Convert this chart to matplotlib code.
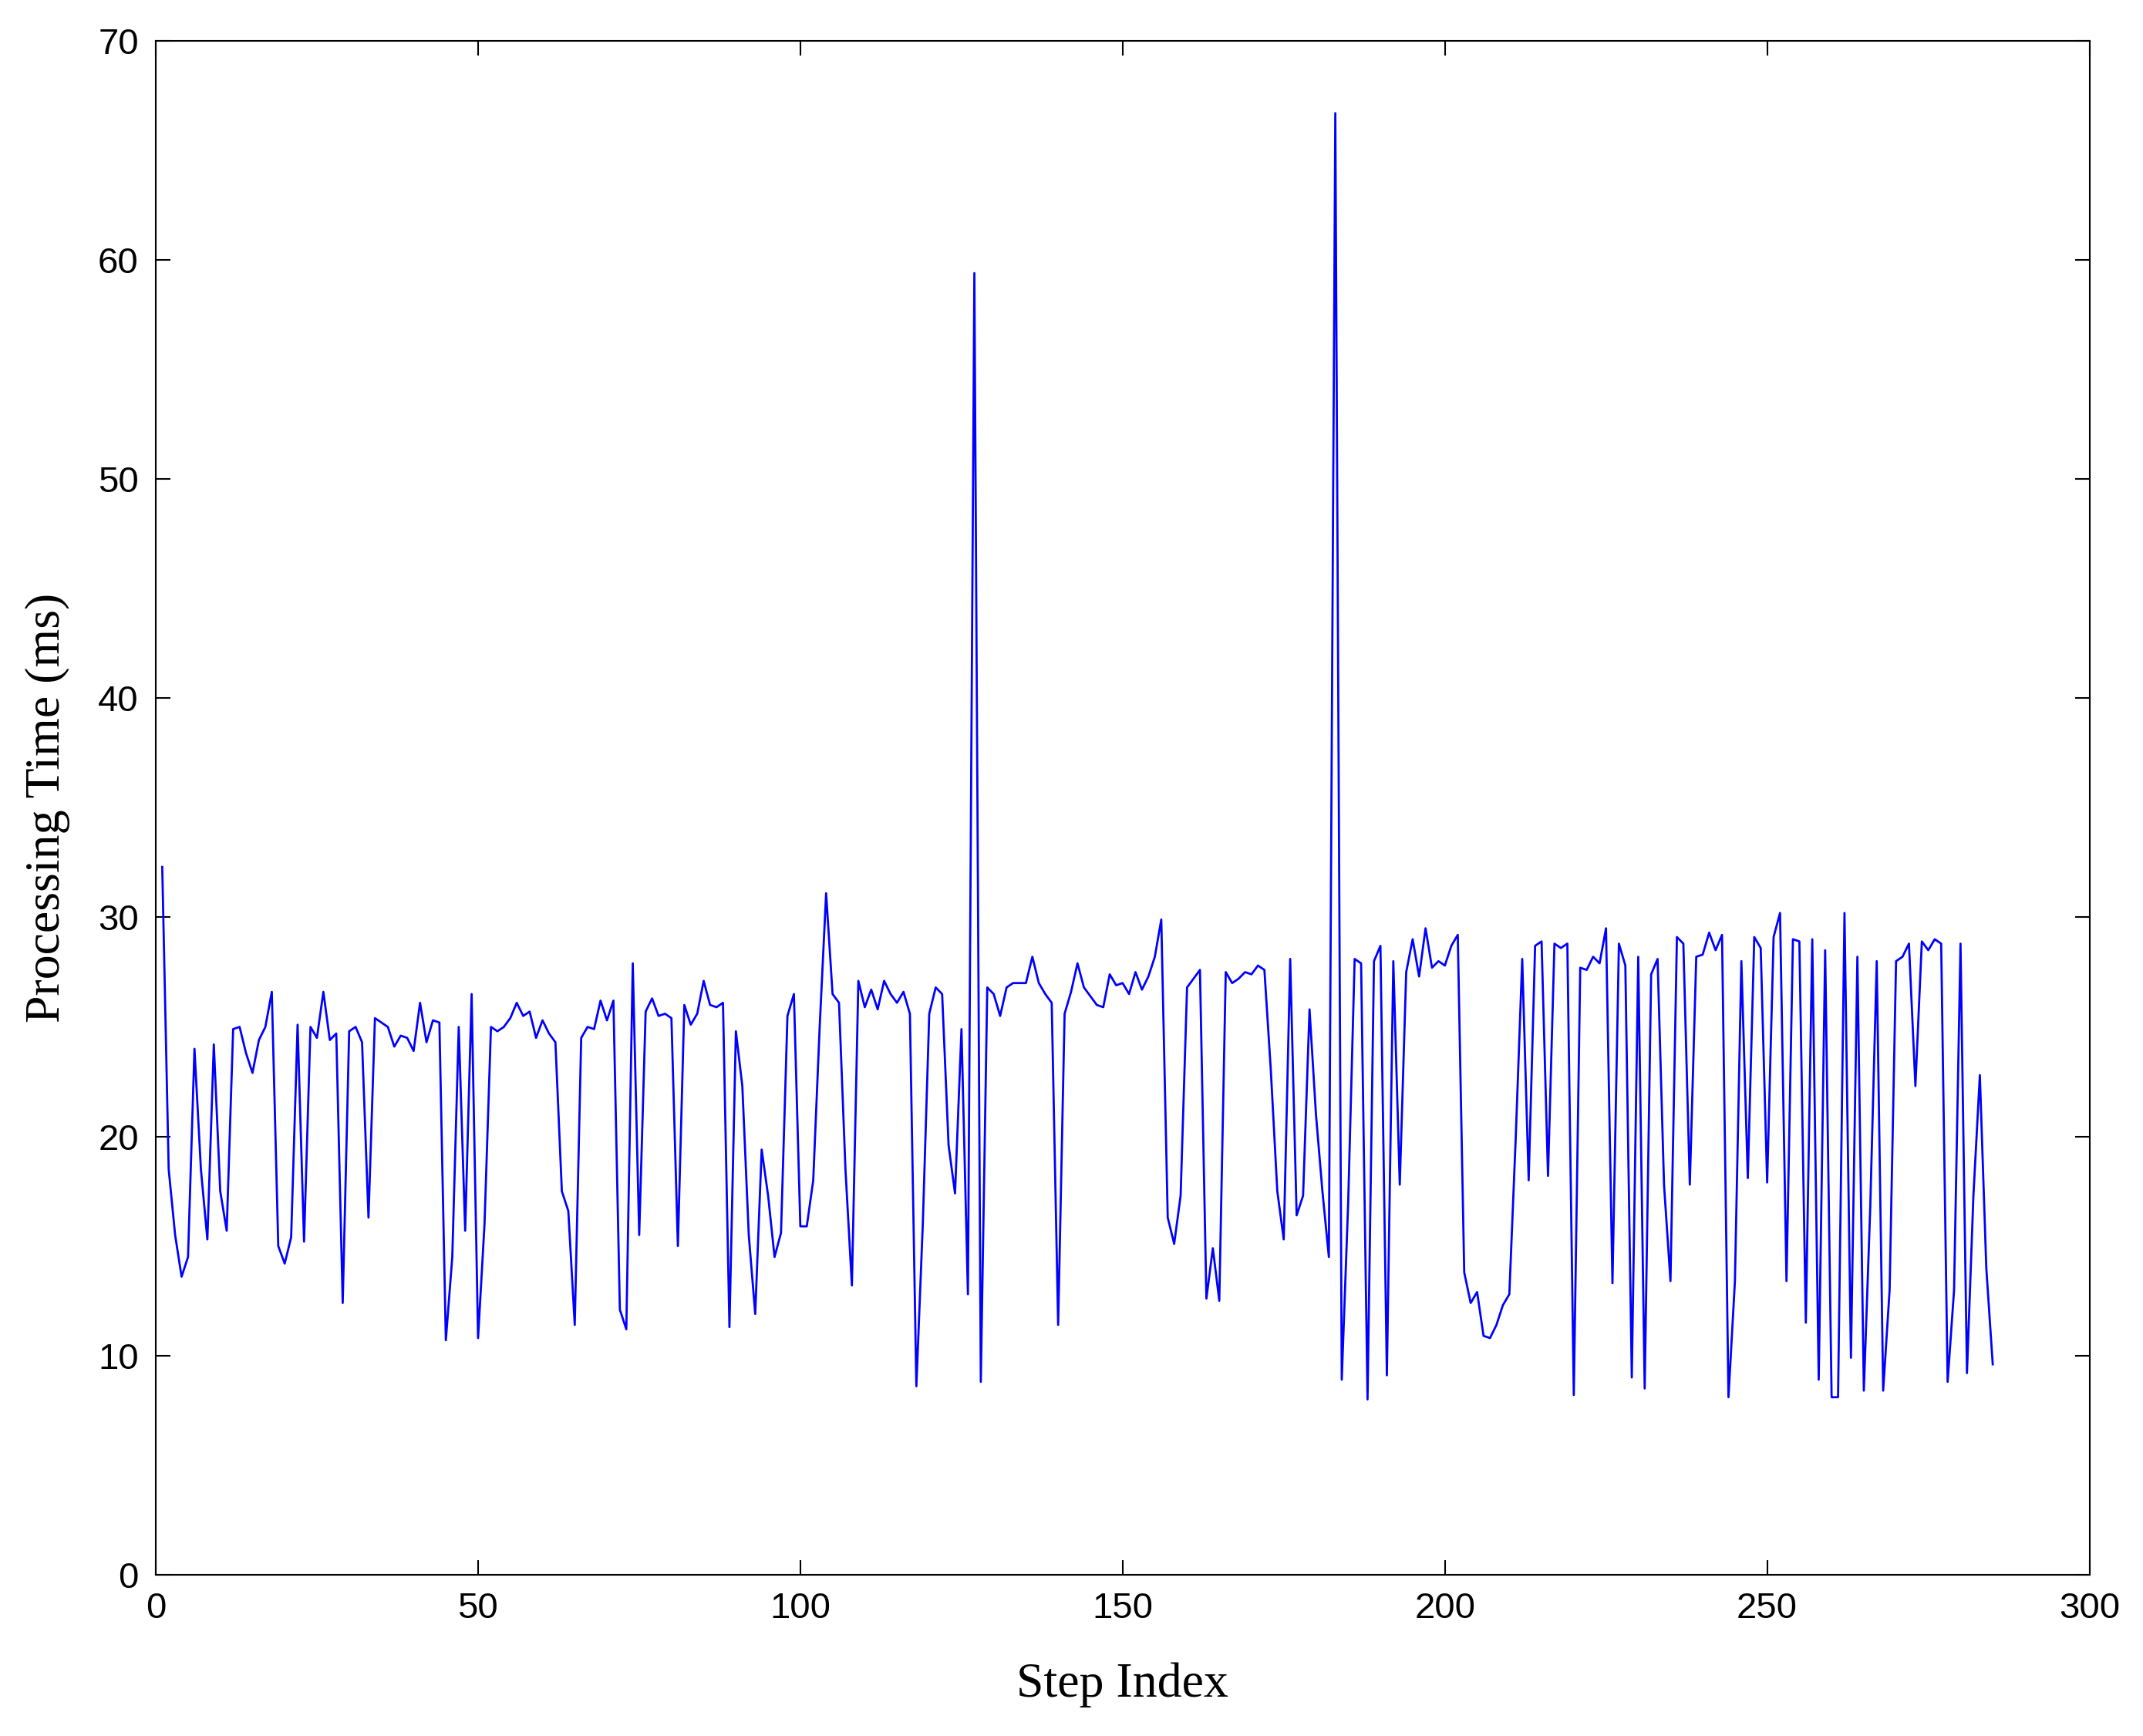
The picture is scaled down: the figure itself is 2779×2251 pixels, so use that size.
import matplotlib
matplotlib.use("Agg")
import matplotlib.pyplot as plt

values = [32.3,18.5,15.5,13.6,14.5,24,18.5,15.3,24.2,17.5,15.7,24.9,25,23.8,22.9,24.4,25,26.6,15,14.2,
15.4,25.1,15.2,25,24.5,26.6,24.4,24.7,12.4,24.8,25,24.3,16.3,25.4,25.2,25,24.1,24.6,24.5,23.9,
26.1,24.3,25.3,25.2,10.7,14.5,25,15.7,26.5,10.8,16,25,24.8,25,25.4,26.1,25.5,25.7,24.5,25.3,
24.7,24.3,17.5,16.6,11.4,24.5,25,24.9,26.2,25.3,26.2,12.1,11.2,27.9,15.5,25.7,26.3,25.5,25.6,25.4,
15,26,25.1,25.6,27.1,26,25.9,26.1,11.3,24.8,22.3,15.5,11.9,19.4,17.3,14.5,15.6,25.5,26.5,15.9,
15.9,18,25,31.1,26.5,26.1,18.5,13.2,27.1,25.9,26.7,25.8,27.1,26.5,26.1,26.6,25.6,8.6,16,25.6,
26.8,26.5,19.6,17.4,24.9,12.8,59.4,8.8,26.8,26.5,25.5,26.8,27,27,27,28.2,27,26.5,26.1,11.4,
25.6,26.6,27.9,26.8,26.4,26,25.9,27.4,26.9,27,26.5,27.5,26.7,27.3,28.2,29.9,16.3,15.1,17.3,26.8,
27.2,27.6,12.6,14.9,12.5,27.5,27,27.2,27.5,27.4,27.8,27.6,23,17.5,15.3,28.1,16.4,17.3,25.8,21,
17.5,14.5,66.7,8.9,17,28.1,27.9,8,28,28.7,9.1,28,17.8,27.5,29,27.3,29.5,27.7,28,27.8,
28.7,29.2,13.8,12.4,12.9,10.9,10.8,11.4,12.3,12.8,20,28.1,18,28.7,28.9,18.2,28.8,28.6,28.8,8.2,
27.7,27.6,28.2,27.9,29.5,13.3,28.8,27.8,9,28.2,8.5,27.4,28.1,17.8,13.4,29.1,28.8,17.8,28.2,28.3,
29.3,28.5,29.2,8.1,13.4,28,18.1,29.1,28.6,17.9,29.1,30.2,13.4,29,28.9,11.5,29,8.9,28.5,8.1,
8.1,30.2,9.9,28.2,8.4,16.8,28,8.4,13,28,28.2,28.8,22.3,28.9,28.5,29,28.8,8.8,13,28.8,
9.2,17.3,22.8,14,9.6]
steps = list(range(1, len(values) + 1))
xticks = [0, 50, 100, 150, 200, 250, 300]
yticks = [0, 10, 20, 30, 40, 50, 60, 70]

fig = plt.figure(figsize=(27.79, 22.51), dpi=100)
ax = fig.add_axes([0.0727, 0.0929, 0.9023, 0.8836])
ax.plot(steps, values, color='#0000ff', linewidth=2.0)
ax.set_xlim(0, 300)
ax.set_ylim(0, 70)
ax.set_xticks(xticks)
ax.set_yticks(yticks)
ax.tick_params(direction='in', top=True, right=True, length=14, width=1.5,
               labelsize=34, pad=16)
for lab in ax.get_xticklabels() + ax.get_yticklabels():
    lab.set_family(['Liberation Sans', 'DejaVu Sans'])
for s in ax.spines.values():
    s.set_linewidth(1.5)
ax.set_xlabel('Step Index', family='Liberation Serif', fontsize=46, labelpad=34)
ax.set_ylabel('Processing Time (ms)', family='Liberation Serif', fontsize=46, labelpad=26)
fig.savefig('out.png', dpi=100)
